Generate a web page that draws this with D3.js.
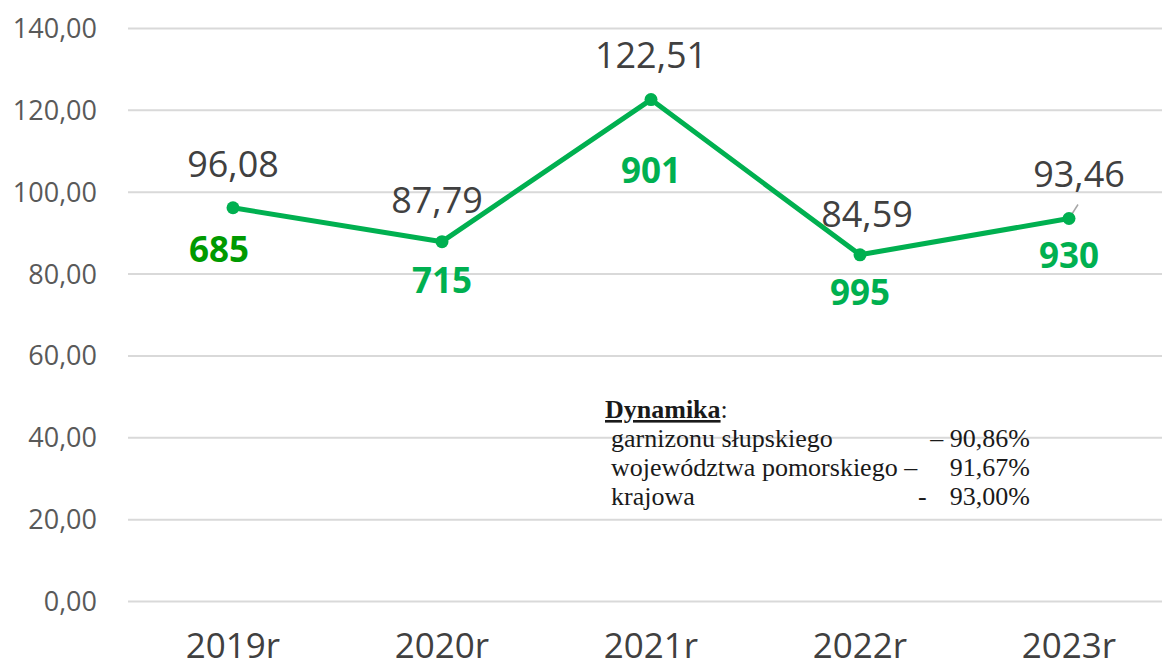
<!DOCTYPE html>
<html>
<head>
<meta charset="utf-8">
<script src="https://cdn.jsdelivr.net/npm/d3@7"></script>
<style>
  body { margin: 0; background: #fff; }
  svg { display: block; }
</style>
</head>
<body>
<div class="chart"></div>
<script>

// data
var years = ["2019r", "2020r", "2021r", "2022r", "2023r"];
var values = [96.08, 87.79, 122.51, 84.59, 93.46];
var counts = [685, 715, 901, 995, 930];
var yTicks = [0, 20, 40, 60, 80, 100, 120, 140];

var dynamikaRows = [
	{ name: "garnizonu słupskiego", dash: "– ", value: "90,86%" },
	{ name: "województwa pomorskiego –", dash: "", value: "91,67%" },
	{ name: "krajowa", dash: "-", value: "93,00%" }
];

// label offsets (px) relative to the point
var valueLabelDx = [0, -5, 0, 7, 10];
var valueLabelDy = [-31, -29, -32, -28, -31];
var countLabelDx = [-14, 0, 0, 0, 0];
var countLabelDy = [54, 51, 83, 50, 50];
var countColors = ["#009A00", "#00B050", "#00B050", "#00B050", "#00B050"];

var width = 1162, height = 670;

var svg = d3.select(".chart")
	.append("svg")
	.attr("width", width)
	.attr("height", height);

var x = d3.scaleBand()
	.domain(years)
	.range([128.5, 1173.5]);

var y = d3.scaleLinear()
	.domain([0, 140])
	.range([601, 28]);

// gridlines
svg.append("g")
	.selectAll("line")
	.data(yTicks)
	.join("line")
	.attr("x1", 128)
	.attr("x2", width)
	.attr("y1", d => y(d) + 0.5)
	.attr("y2", d => y(d) + 0.5)
	.style("stroke", "#D9D9D9")
	.style("stroke-width", "2px");

// y axis labels
svg.append("g")
	.selectAll("text")
	.data(yTicks)
	.join("text")
	.attr("x", 97)
	.attr("y", d => y(d) + 10)
	.style("text-anchor", "end")
	.style("font-family", "'Open Sans'")
	.style("font-size", "27px")
	.style("fill", "#595959")
	.text(d => d3.format(".2f")(d).replace(".", ","));

// x axis labels
svg.append("g")
	.selectAll("text")
	.data(years)
	.join("text")
	.attr("x", d => x(d) + x.bandwidth() / 2)
	.attr("y", 658)
	.style("text-anchor", "middle")
	.style("font-family", "'Open Sans'")
	.style("font-size", "35px")
	.style("fill", "#404040")
	.text(d => d);

var cx = (d, i) => x(years[i]) + x.bandwidth() / 2;

// line
var line = d3.line()
	.x((d, i) => cx(d, i))
	.y(d => y(d));

svg.append("path")
	.datum(values)
	.attr("d", line)
	.style("fill", "none")
	.style("stroke", "#00B050")
	.style("stroke-width", "5px")
	.style("stroke-linejoin", "round");

// leader line for last label
svg.append("line")
	.attr("x1", cx(values[4], 4) + 2)
	.attr("y1", y(values[4]) - 3)
	.attr("x2", cx(values[4], 4) + 9)
	.attr("y2", y(values[4]) - 14)
	.style("stroke", "#A6A6A6")
	.style("stroke-width", "1.5px");

// markers
svg.append("g")
	.selectAll("circle")
	.data(values)
	.join("circle")
	.attr("cx", (d, i) => cx(d, i))
	.attr("cy", d => y(d))
	.attr("r", 6.5)
	.style("fill", "#00B050");

// value labels
svg.append("g")
	.selectAll("text")
	.data(values)
	.join("text")
	.attr("x", (d, i) => cx(d, i) + valueLabelDx[i])
	.attr("y", (d, i) => y(d) + valueLabelDy[i])
	.style("text-anchor", "middle")
	.style("font-family", "'Open Sans'")
	.style("font-size", "36px")
	.style("fill", "#404040")
	.text(d => d3.format(".2f")(d).replace(".", ","));

// count labels
svg.append("g")
	.selectAll("text")
	.data(counts)
	.join("text")
	.attr("x", (d, i) => cx(values[i], i) + countLabelDx[i])
	.attr("y", (d, i) => y(values[i]) + countLabelDy[i])
	.style("text-anchor", "middle")
	.style("font-family", "'Open Sans'")
	.style("font-weight", "bold")
	.style("font-size", "35px")
	.style("fill", (d, i) => countColors[i])
	.text(d => d);

/* Dynamika text box */
var box = svg.append("g")
	.style("font-family", "'Liberation Serif', 'Times New Roman', serif")
	.style("font-size", "26px")
	.style("fill", "#1a1a1a");

var title = box.append("text")
	.attr("x", 605)
	.attr("y", 418);
title.append("tspan")
	.style("font-weight", "bold")
	.style("text-decoration", "underline")
	.text("Dynamika");
title.append("tspan").text(":");

box.selectAll("text.rowName")
	.data(dynamikaRows)
	.join("text")
	.attr("class", "rowName")
	.attr("x", 611)
	.attr("y", (d, i) => 447 + i * 29)
	.text(d => d.name);

box.selectAll("text.rowValue")
	.data(dynamikaRows)
	.join("text")
	.attr("class", "rowValue")
	.attr("x", 1030)
	.attr("y", (d, i) => 447 + i * 29)
	.style("text-anchor", "end")
	.text(d => d.dash === "– " ? "– " + d.value : d.value);

box.selectAll("text.rowDash")
	.data(dynamikaRows.filter(d => d.dash === "-"))
	.join("text")
	.attr("class", "rowDash")
	.attr("x", 918)
	.attr("y", 447 + 2 * 29)
	.text(d => d.dash);

</script>
</body>
</html>
